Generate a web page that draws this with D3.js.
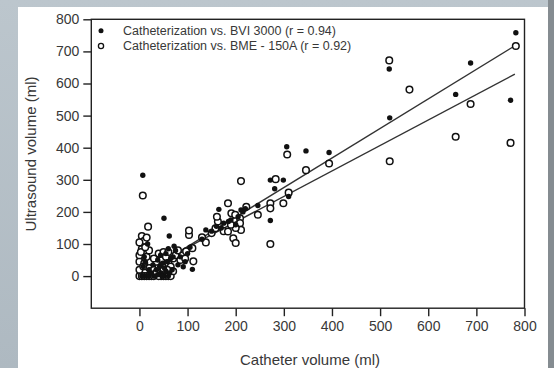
<!DOCTYPE html>
<html>
<head>
<meta charset="utf-8">
<script src="https://cdn.jsdelivr.net/npm/d3@7"></script>
<style>
  body { margin: 0; padding: 0; overflow: hidden; }
  svg { display: block; font-family: "Liberation Sans", Arial, sans-serif; }
</style>
</head>
<body>
<script>
// Catheterization vs. BVI 3000 (filled dots)
const bviX = [5, 10, 15, 20, 30, 40, 45, 50, 55, 60, 35, 25, 42, 48, 52, 58, 65, 70, 72, 62, 51, 7, 17, 10, 8, 12, 20, 75, 80, 85, 91, 95, 110, 100, 105, 68, 38, 44, 28, 55, 60, 33, 47, 63,
  130, 138, 150, 160, 165, 170, 175, 185, 190, 200, 205, 211, 215, 220, 246, 272, 272, 281, 299, 306, 310, 346, 394, 519, 520, 657, 688, 771, 782];
const bviY = [0, 0, 0, 0, 0, 5, 10, 0, 15, 0, 20, 10, 30, 40, 25, 45, 55, 60, 93, 125, 180, 314, 100, 60, 30, 45, 20, 80, 35, 60, 29, 45, 21, 70, 90, 20, 50, 65, 35, 70, 85, 0, 0, 10,
  115, 144, 140, 155, 208, 150, 165, 170, 175, 160, 185, 206, 200, 210, 220, 299, 173, 272, 299, 403, 248, 390, 385, 645, 493, 566, 664, 548, 758];

// Catheterization vs. BME - 150A (open circles)
const bmeX = [0, 5, 10, 15, 20, 25, 30, 45, 50, 55, 60, 65, 0, 0, 0, 5, 5, 5, 10, 15, 7, 18, 10, 15, 20, 25, 30, 35, 40, 45, 40, 50, 55, 60, 65, 70, 75, 80, 85, 90, 95, 97, 103, 103, 110, 112, 60, 35, 20, 30, 50, 70, 0, 3, 8, 12, 40, 58,
  130, 138, 150, 158, 163, 161, 175, 184, 184, 191, 195, 200, 199, 209, 209, 211, 211, 222, 200, 190, 246, 272, 272, 272, 283, 299, 307, 310, 346, 394, 519, 520, 561, 657, 688, 771, 782];
const bmeY = [0, 0, 0, 0, 0, 0, 0, 0, 0, 0, 0, 0, 20, 45, 65, 85, 105, 125, 110, 120, 251, 154, 40, 60, 25, 15, 20, 10, 30, 50, 70, 75, 60, 40, 30, 55, 65, 80, 50, 65, 55, 77, 128, 142, 87, 46, 75, 45, 80, 55, 20, 15, 105, 75, 30, 90, 0, 20,
  121, 105, 134, 149, 170, 185, 140, 139, 227, 196, 118, 103, 191, 180, 165, 144, 296, 216, 150, 160, 191, 227, 211, 100, 302, 227, 379, 260, 330, 351, 672, 358, 581, 434, 536, 415, 717];

// regression lines: [x0, x1], slope, intercept
const fitBvi = { x: [40, 780], slope: 0.92, intercept: 0 };
const fitBme = { x: [40, 780], slope: 0.794, intercept: 10 };

const xTicks = [0, 100, 200, 300, 400, 500, 600, 700, 800];
const yTicks = [0, 100, 200, 300, 400, 500, 600, 700, 800];

const legendLabels = [
  "Catheterization vs. BVI 3000 (r = 0.94)",
  "Catheterization vs. BME - 150A (r = 0.92)",
];

const width = 554;
const height = 368;
const ink = "#222";
const textColor = "#383838";

const svg = d3.select("body").append("svg")
  .attr("width", width)
  .attr("height", height);

// backdrop
const grad = svg.append("defs").append("linearGradient")
  .attr("id", "bg").attr("x1", 0).attr("y1", 0).attr("x2", 0).attr("y2", 1);
grad.append("stop").attr("offset", "0%").attr("stop-color", "#bcc6cd");
grad.append("stop").attr("offset", "100%").attr("stop-color", "#aeb9c1");
svg.append("rect").attr("width", width).attr("height", height).attr("fill", "url(#bg)");
svg.append("rect").attr("x", 548).attr("y", 0).attr("width", 6).attr("height", height).attr("fill", "#858c91");
svg.append("rect").attr("x", 18).attr("y", 7).attr("width", 530).attr("height", height - 7).attr("fill", "#fff");

const x = d3.scaleLinear().domain([-100, 800]).range([91.3, 524.5]);
const y = d3.scaleLinear().domain([-100, 800]).range([308.2, 19.3]);

// frame
svg.append("rect")
  .attr("x", x(-100)).attr("y", y(800))
  .attr("width", x(800) - x(-100)).attr("height", y(-100) - y(800))
  .attr("fill", "none").attr("stroke", ink).attr("stroke-width", 1.4);

const xAxis = svg.append("g")
  .attr("transform", `translate(0,${y(-100)})`)
  .call(d3.axisBottom(x).tickValues(xTicks).tickSize(8).tickPadding(5).tickFormat(d3.format("d")));
const yAxis = svg.append("g")
  .attr("transform", `translate(${x(-100)},0)`)
  .call(d3.axisLeft(y).tickValues(yTicks).tickSize(8).tickPadding(4).tickFormat(d3.format("d")));

[xAxis, yAxis].forEach((g) => {
  g.select(".domain").remove();
  g.selectAll(".tick line").attr("stroke", ink).attr("stroke-width", 1.4);
  g.selectAll(".tick text").attr("fill", textColor).style("font-size", "14px");
});

// regression lines
const line = d3.line().x((d) => x(d[0])).y((d) => y(d[1]));
[fitBvi, fitBme].forEach((f) => {
  svg.append("path")
    .attr("d", line(f.x.map((v) => [v, f.slope * v + f.intercept])))
    .attr("fill", "none").attr("stroke", "#333").attr("stroke-width", 1.4);
});

// open circles
svg.append("g").selectAll("circle")
  .data(bmeX.map((v, i) => [v, bmeY[i]]))
  .join("circle")
  .attr("cx", (d) => x(d[0])).attr("cy", (d) => y(d[1]))
  .attr("r", 3.3)
  .attr("fill", "#fff").attr("stroke", "#111").attr("stroke-width", 1.5);

// filled dots
svg.append("g").selectAll("circle")
  .data(bviX.map((v, i) => [v, bviY[i]]))
  .join("circle")
  .attr("cx", (d) => x(d[0])).attr("cy", (d) => y(d[1]))
  .attr("r", 2.7)
  .attr("fill", "#111");

// legend
const legend = svg.append("g");
legend.append("circle").attr("cx", 101).attr("cy", 30.7).attr("r", 2.5).attr("fill", "#111");
legend.append("circle").attr("cx", 101).attr("cy", 46).attr("r", 2.6)
  .attr("fill", "#fff").attr("stroke", "#111").attr("stroke-width", 1.3);
legend.selectAll("text")
  .data(legendLabels)
  .join("text")
  .attr("x", 123)
  .attr("y", (d, i) => 35 + i * 15.4)
  .attr("fill", textColor)
  .style("font-size", "12.5px")
  .text((d) => d);

// axis titles
svg.append("text")
  .attr("x", 310).attr("y", 365)
  .attr("text-anchor", "middle")
  .attr("fill", textColor)
  .style("font-size", "15px")
  .text("Catheter volume (ml)");

svg.append("text")
  .attr("transform", "translate(36,154) rotate(-90)")
  .attr("text-anchor", "middle")
  .attr("fill", textColor)
  .style("font-size", "15px")
  .text("Ultrasound volume (ml)");
</script>
</body>
</html>
